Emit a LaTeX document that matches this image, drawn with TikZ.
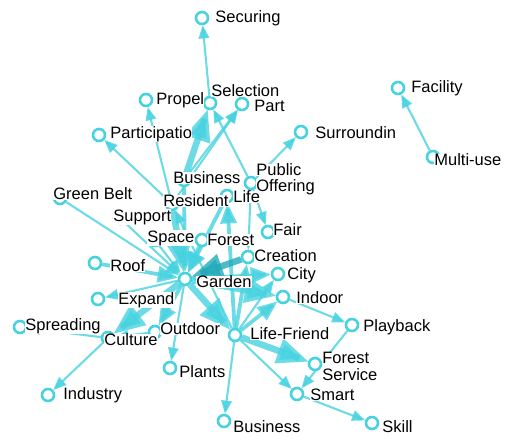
\documentclass[tikz,border=0pt]{standalone}
\usepackage{fontspec}
\setmainfont{Liberation Sans}
\usepackage{tikz}
\usetikzlibrary{arrows,backgrounds}

\definecolor{net}{RGB}{72,210,224}
\definecolor{netdark}{RGB}{34,170,186}

\tikzset{
  term/.style={circle,draw=net,fill=white,line width=2.6pt,minimum size=12pt,inner sep=0pt},
  tag/.style={anchor=west,inner sep=0.2pt,fill=white,text=black,font=\fontsize{16.5}{16.5}\selectfont},
  link/.style={draw=net,line width=2.1pt,->,opacity=0.8},
  wide/.style={link,line width=3.8pt},
  heavy/.style={link,line width=6.5pt},
}

\begin{document}
\begin{tikzpicture}[x=1pt,y=-1pt,>=triangle 45]
\useasboundingbox (0,0) rectangle (508,437);

    % the terms
    \node[term] (secu) at (202,18) {};
    \node[term] (prop) at (146,100) {};
    \node[term] (sele) at (210,103) {};
    \node[term] (part) at (242,104) {};
    \node[term] (parti) at (99,135) {};
    \node[term] (surr) at (301,132) {};
    \node[term] (faci) at (398,88) {};
    \node[term] (mult) at (433,157) {};
    \node[term] (busa) at (184,180) {};
    \node[term] (publ) at (251,183) {};
    \node[term] (life) at (227,196) {};
    \node[term] (resi) at (172,204) {};
    \node[term] (gree) at (60,198) {};
    \node[term] (supp) at (120,218) {};
    \node[term] (spac) at (155,240) {};
    \node[term] (fore) at (202,240) {};
    \node[term] (fair) at (268,232) {};
    \node[term] (crea) at (248,257) {};
    \node[term] (city) at (278,274) {};
    \node[term] (gard) at (185,279) {};
    \node[term] (indo) at (283,297) {};
    \node[term] (roof) at (95,263) {};
    \node[term] (expa) at (98,299) {};
    \node[term] (spre) at (20,327) {};
    \node[term] (cult) at (108,338) {};
    \node[term] (outd) at (155,332) {};
    \node[term] (plan) at (170,368) {};
    \node[term] (indu) at (48,395) {};
    \node[term] (busb) at (224,421) {};
    \node[term] (lifr) at (235,335) {};
    \node[term] (play) at (352,325) {};
    \node[term] (fors) at (315,364) {};
    \node[term] (smar) at (297,394) {};
    \node[term] (skil) at (372,423) {};

    % the links
    \begin{pgfonlayer}{background}
    \draw[link] (mult) -- (faci);
    \draw[link] (sele) -- (secu);
    \draw[heavy] (busa) -- (sele);
    \draw[link] (resi) -- (prop);
    \draw[link] (resi) -- (part);
    \draw[link] (publ) -- (sele);
    \draw[link] (resi) -- (parti);
    \draw[link] (publ) -- (surr);
    \draw[link] (gree) -- (gard);
    \draw[wide] (roof) -- (gard);
    \draw[link] (gard) -- (expa);
    \draw[heavy] (gard) -- (cult);
    \draw[link] (cult) -- (spre);
    \draw[link] (cult) -- (indu);
    \draw[link] (gard) -- (plan);
    \draw[wide] (gard) -- (outd);
    \draw[link] (outd) -- (cult);
    \draw[heavy] (gard) -- (lifr);
    \draw[link] (lifr) -- (busb);
    \draw[heavy] (lifr) -- (fors);
    \draw[link] (lifr) -- (smar);
    \draw[wide] (lifr) -- (indo);
    \draw[link] (lifr) -- (city);
    \draw[wide] (lifr) -- (crea);
    \draw[wide] (lifr) -- (life);
    \draw[link] (lifr) -- (resi);
    \draw[heavy] (gard) -- (indo);
    \draw[wide] (gard) -- (city);
    \draw[heavy,draw=netdark] (crea) -- (gard);
    \draw[heavy] (resi) -- (gard);
    \draw[wide] (fore) -- (gard);
    \draw[link] (spac) -- (gard);
    \draw[link] (supp) -- (gard);
    \draw[wide] (busa) -- (gard);
    \draw[wide] (life) -- (gard);
    \draw[link] (publ) -- (fair);
    \draw[link] (publ) -- (crea);
    \draw[link] (busa) -- (part);
    \draw[link] (indo) -- (play);
    \draw[link] (play) -- (smar);
    \draw[link] (smar) -- (skil);
    \end{pgfonlayer}

    % the words
    \node[tag] (secuT) at (215,18) {Securing};
    \node[tag] (propT) at (156,100) {Propel};
    \node[tag] (seleT) at (211,91) {Selection};
    \node[tag] (partT) at (254,106) {Part};
    \node[tag] (partiT) at (110,134) {Participatio};
    \node[tag] (surrT) at (315,133) {Surroundin};
    \node[tag] (faciT) at (411,88) {Facility};
    \node[tag] (multT) at (434,160) {Multi-use};
    \node[tag] (busaT) at (173,178) {Business};
    \node[tag] (publT) at (256,170) {Public};
    \node[tag] (offeT) at (256,187) {Offering};
    \node[tag] (lifeT) at (233,197) {Life};
    \node[tag] (resiT) at (163,201) {Resident};
    \node[tag] (greeT) at (53,194) {Green Belt};
    \node[tag] (suppT) at (113,217) {Support};
    \node[tag] (spacT) at (147,238) {Space};
    \node[tag] (foreT) at (207,240) {Forest};
    \node[tag] (fairT) at (273,230) {Fair};
    \node[tag] (creaT) at (254,256) {Creation};
    \node[tag] (cityT) at (287,275) {City};
    \node[tag] (gardT) at (196,282) {Garden};
    \node[tag] (indoT) at (296,298) {Indoor};
    \node[tag] (roofT) at (110,266) {Roof};
    \node[tag] (expaT) at (118,300) {Expand};
    \node[tag] (spreT) at (25,326) {Spreading};
    \node[tag] (cultT) at (104,340) {Culture};
    \node[tag] (outdT) at (160,329) {Outdoor};
    \node[tag] (planT) at (179,372) {Plants};
    \node[tag] (induT) at (63,395) {Industry};
    \node[tag] (busbT) at (233,427) {Business};
    \node[tag] (lifrT) at (250,334) {Life-Friend};
    \node[tag] (playT) at (363,327) {Playback};
    \node[tag] (forsT) at (322,358) {Forest};
    \node[tag] (servT) at (322,375) {Service};
    \node[tag] (smarT) at (310,395) {Smart};
    \node[tag] (skilT) at (382,427) {Skill};
\end{tikzpicture}
\end{document}
